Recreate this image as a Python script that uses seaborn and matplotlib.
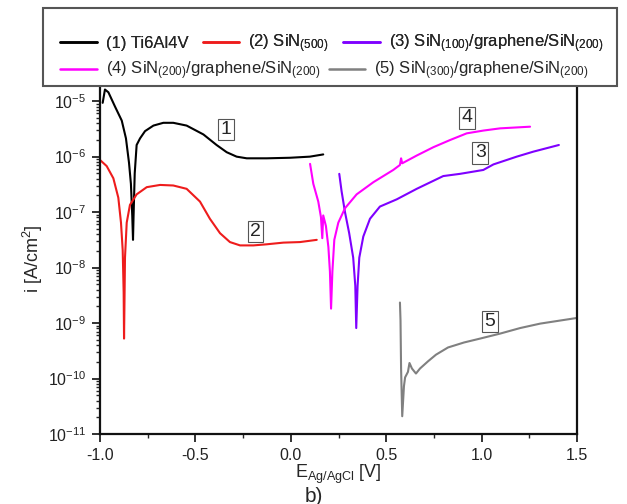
import numpy as np
import pandas as pd
import matplotlib
matplotlib.use('Agg')
import matplotlib.pyplot as plt
from matplotlib.lines import Line2D
from matplotlib.patches import Rectangle
from matplotlib.ticker import MultipleLocator, LogLocator
import seaborn as sns

# curve 1: Ti6Al4V
e1 = [-0.986, -0.974, -0.956, -0.921, -0.886, -0.864, -0.848, -0.838, -0.831, -0.827,
      -0.824, -0.818, -0.808, -0.790, -0.764, -0.720, -0.668, -0.616, -0.546, -0.458,
      -0.389, -0.336, -0.284, -0.231, -0.126, -0.004, 0.100, 0.170]
log_i1 = [-5.03, -4.79, -4.84, -5.10, -5.35, -5.67, -6.11, -6.49, -7.06, -7.50,
          -7.06, -6.30, -5.79, -5.67, -5.54, -5.44, -5.39, -5.39, -5.44, -5.60,
          -5.79, -5.92, -6.00, -6.03, -6.03, -6.02, -6.00, -5.96]

# curve 2: SiN(500)
e2 = [-1.000, -0.965, -0.930, -0.904, -0.890, -0.881, -0.876, -0.874, -0.869, -0.860,
      -0.843, -0.808, -0.755, -0.685, -0.616, -0.546, -0.476, -0.424, -0.371, -0.319,
      -0.266, -0.196, -0.126, -0.039, 0.048, 0.136]
log_i2 = [-6.06, -6.17, -6.39, -6.74, -7.19, -7.69, -8.45, -9.28, -7.82, -7.19,
          -6.87, -6.68, -6.55, -6.51, -6.52, -6.58, -6.81, -7.12, -7.38, -7.54,
          -7.60, -7.60, -7.58, -7.55, -7.54, -7.50]

# curve 3: SiN(100)/graphene/SiN(200)
e3 = [0.254, 0.266, 0.284, 0.306, 0.327, 0.338, 0.343, 0.350, 0.359, 0.380,
      0.415, 0.467, 0.555, 0.660, 0.799, 0.887, 1.009, 1.062, 1.184, 1.271, 1.405]
log_i3 = [-6.31, -6.62, -7.00, -7.38, -7.82, -8.33, -9.09, -8.33, -7.82, -7.44,
          -7.12, -6.90, -6.77, -6.58, -6.35, -6.31, -6.24, -6.14, -6.00, -5.91, -5.79]

# curve 4: SiN(200)/graphene/SiN(200)
e4 = [0.101, 0.118, 0.144, 0.158, 0.165, 0.170, 0.184, 0.197, 0.205, 0.211,
      0.218, 0.228, 0.249, 0.284, 0.345, 0.433, 0.537, 0.572, 0.578, 0.584,
      0.660, 0.747, 0.835, 0.922, 1.009, 1.097, 1.254]
log_i4 = [-6.13, -6.49, -6.81, -7.09, -7.47, -7.06, -7.25, -7.63, -8.07, -8.74,
          -8.07, -7.50, -7.19, -6.93, -6.68, -6.46, -6.24, -6.15, -6.03, -6.12,
          -5.98, -5.83, -5.70, -5.58, -5.53, -5.49, -5.46]

# curve 5: SiN(300)/graphene/SiN(200)
e5 = [0.572, 0.575, 0.578, 0.584, 0.593, 0.599, 0.614, 0.622, 0.635, 0.656,
      0.677, 0.719, 0.761, 0.824, 0.908, 0.992, 1.097, 1.202, 1.307, 1.496]
log_i5 = [-8.63, -8.95, -9.82, -10.68, -10.14, -9.98, -9.88, -9.72, -9.82, -9.91,
          -9.82, -9.69, -9.57, -9.44, -9.35, -9.28, -9.19, -9.09, -9.01, -8.91]

names = ['(1) Ti6Al4V', '(2) SiN$_{(500)}$',
         '(3) SiN$_{(100)}$/graphene/SiN$_{(200)}$',
         '(4) SiN$_{(200)}$/graphene/SiN$_{(200)}$',
         '(5) SiN$_{(300)}$/graphene/SiN$_{(200)}$']
colors = ['#000000', '#ee1c1c', '#7f00ff', '#ff00ff', '#808080']

tags = ['1', '2', '3', '4', '5']
tag_e = [-0.341, -0.184, 0.993, 0.925, 1.044]
tag_i = [3.1e-6, 4.5e-8, 1.17e-6, 5.0e-6, 1.07e-9]

frames = []
for n, e, li in zip(names, [e1, e2, e3, e4, e5], [log_i1, log_i2, log_i3, log_i4, log_i5]):
    frames.append(pd.DataFrame({'E': e, 'i': 10.0 ** np.array(li), 'sample': n}))
df = pd.concat(frames, ignore_index=True)

sns.set_style('ticks')
plt.rcParams['font.family'] = ['Liberation Sans', 'DejaVu Sans']
plt.rcParams['mathtext.default'] = 'regular'

fig = plt.figure(figsize=(6.27, 5.04), dpi=100)
ax = fig.add_axes([100 / 627, 1 - 434 / 504, 477 / 627, (434 - 84) / 504])

sns.lineplot(data=df, x='E', y='i', hue='sample', palette=dict(zip(names, colors)),
             sort=False, estimator=None, legend=False, linewidth=1.5, ax=ax)

ax.set_yscale('log')
ax.set_xlim(-1.0, 1.5)
ax.set_ylim(1e-11, 2.04e-5)
ax.xaxis.set_major_locator(MultipleLocator(0.5))
ax.xaxis.set_minor_locator(MultipleLocator(0.25))
ax.yaxis.set_major_locator(LogLocator(base=10, numticks=20))
ax.yaxis.set_minor_locator(LogLocator(base=10, subs=np.arange(2, 10), numticks=20))
ax.xaxis.set_major_formatter(matplotlib.ticker.FormatStrFormatter('%.1f'))

ax.tick_params(which='major', direction='out', length=6, width=1.3, labelsize=11.5,
               colors='#222222', top=False, right=False, pad=4)
ax.tick_params(which='minor', direction='out', length=3, width=1.0, top=False, right=False)
for s in ['left', 'bottom', 'right']:
    ax.spines[s].set_linewidth(1.6)
    ax.spines[s].set_color('#111111')
ax.spines['top'].set_visible(False)

ax.set_xlabel('E$_{Ag/AgCl}$ [V]', fontsize=13, labelpad=0)
ax.set_ylabel('i [A/cm$^2$]', fontsize=13, labelpad=2)

for t, x, y in zip(tags, tag_e, tag_i):
    ax.text(x, y, t, fontsize=14, ha='center', va='center',
            bbox=dict(boxstyle='square,pad=0.12', fc='white', ec='#555555', lw=0.8))

fig.text(0.5, 1 - 496 / 504, 'b)', fontsize=15, ha='center', va='center')

# legend box
fig.patches.append(Rectangle((43 / 627, 1 - 86 / 504), (617 - 43) / 627, 78 / 504,
                             transform=fig.transFigure, fc='white', ec='#555555', lw=1.5))

h = [Line2D([], [], color=c, lw=1.8) for c in colors]
kw = dict(frameon=False, fontsize=12, handlelength=2.2, handletextpad=0.55,
          borderaxespad=0, borderpad=0)
leg1 = fig.legend(h[:3], names[:3], loc='center left', bbox_to_anchor=(60 / 627, 1 - 44 / 504),
                  ncol=3, columnspacing=0.85, **kw)
leg2 = fig.legend(h[3:], names[3:], loc='center left', bbox_to_anchor=(60 / 627, 1 - 71 / 504),
                  ncol=2, columnspacing=0.5, **kw)
fig.add_artist(leg1)

fig.savefig('out.png', dpi=100)
